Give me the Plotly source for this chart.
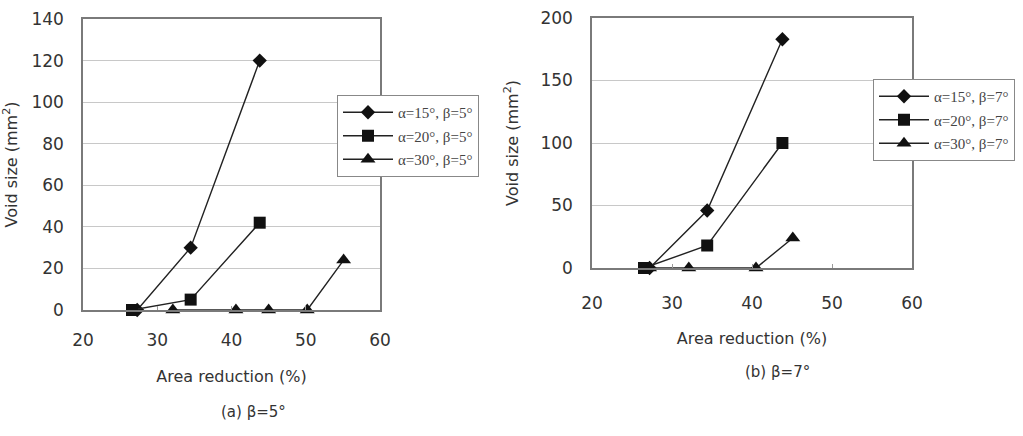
import plotly.graph_objects as go

# ---- data (a) beta=5 ----
a_x15 = [27.3, 34.5, 43.8]
a_y15 = [0, 30, 120]
a_x20 = [26.6, 34.5, 43.8]
a_y20 = [0, 5, 42]
a_x30 = [32.1, 40.6, 45.0, 50.2, 55.1]
a_y30 = [0, 0, 0, 0, 24]

# ---- data (b) beta=7 ----
b_x15 = [27.2, 34.4, 43.8]
b_y15 = [0, 46, 183]
b_x20 = [26.5, 34.4, 43.8]
b_y20 = [0, 18, 100]
b_x30 = [27.2, 32.1, 40.5, 45.1]
b_y30 = [0, 0, 0, 24]

names_a = ["α=15°, β=5°", "α=20°, β=5°", "α=30°, β=5°"]
names_b = ["α=15°, β=7°", "α=20°, β=7°", "α=30°, β=7°"]
symbols = ["diamond", "square", "triangle-up"]
msizes = [11, 12, 13]

x_ticks = [20, 30, 40, 50, 60]
a_y_ticks = [0, 20, 40, 60, 80, 100, 120, 140]
b_y_ticks = [0, 50, 100, 150, 200]

W, H = 1023, 436
TXT = "#333333"
FONT = "DejaVu Sans"

fig = go.Figure()

def add_series(xs, ys, name, sym, ms, xa, ya, legend, grp):
    fig.add_trace(go.Scatter(
        x=xs, y=ys, name=name, mode="lines+markers",
        line=dict(color="#222222", width=1.4),
        marker=dict(symbol=sym, size=ms, color="#111111"),
        xaxis=xa, yaxis=ya, legend=legend, legendgroup=grp,
        cliponaxis=False,
    ))

A = [(a_x15, a_y15), (a_x20, a_y20), (a_x30, a_y30)]
B = [(b_x15, b_y15), (b_x20, b_y20), (b_x30, b_y30)]
for i, (xs, ys) in enumerate(A):
    add_series(xs, ys, names_a[i], symbols[i], msizes[i], "x", "y", "legend", f"a{i}")
for i, (xs, ys) in enumerate(B):
    add_series(xs, ys, names_b[i], symbols[i], msizes[i], "x2", "y2", "legend2", f"b{i}")

def px_x(p):
    return p / W

def px_y(p):
    return 1 - p / H

axis_common = dict(
    showline=True, linecolor="#7a7a7a", linewidth=1.5, mirror=True,
    tickfont=dict(family=FONT, size=17, color=TXT),
    zeroline=False, automargin=False,
)

fig.update_layout(
    width=W, height=H,
    margin=dict(l=0, r=0, t=0, b=0, autoexpand=False),
    paper_bgcolor="white", plot_bgcolor="white",
    showlegend=True,
    xaxis=dict(domain=[px_x(83), px_x(380)], range=[20, 60], tickvals=x_ticks,
               showgrid=False, ticks="inside", ticklen=4, tickcolor="#999",
               ticklabelstandoff=14, anchor="y",
               title=dict(text="Area reduction (%)", standoff=22,
                          font=dict(family=FONT, size=16, color=TXT)),
               **axis_common),
    yaxis=dict(domain=[px_y(310), px_y(19)], range=[0, 140], tickvals=a_y_ticks,
               showgrid=True, gridcolor="#c8c8c8", gridwidth=1.2, ticks="",
               ticklabelstandoff=14, anchor="x",
               title=dict(text="Void size (mm<sup>2</sup>)", standoff=17,
                          font=dict(family=FONT, size=16, color=TXT)),
               **axis_common),
    xaxis2=dict(domain=[px_x(592), px_x(912)], range=[20, 60], tickvals=x_ticks,
                showgrid=False, ticks="inside", ticklen=4, tickcolor="#999",
                ticklabelstandoff=19, anchor="y2",
                title=dict(text="Area reduction (%)", standoff=21,
                           font=dict(family=FONT, size=16, color=TXT)),
                **axis_common),
    yaxis2=dict(domain=[px_y(268), px_y(18)], range=[0, 200], tickvals=b_y_ticks,
                showgrid=True, gridcolor="#c8c8c8", gridwidth=1.2, ticks="",
                ticklabelstandoff=14, anchor="x2",
                title=dict(text="Void size (mm<sup>2</sup>)", standoff=18,
                           font=dict(family=FONT, size=16, color=TXT)),
                **axis_common),
    legend=dict(x=px_x(337), y=px_y(95), xanchor="left", yanchor="top",
                bgcolor="white", bordercolor="#888", borderwidth=1,
                font=dict(family="Liberation Serif", size=15, color="#444"),
                itemwidth=50, tracegroupgap=1, traceorder="grouped"),
    legend2=dict(x=px_x(873), y=px_y(79), xanchor="left", yanchor="top",
                 bgcolor="white", bordercolor="#888", borderwidth=1,
                 font=dict(family="Liberation Serif", size=15, color="#444"),
                 itemwidth=50, tracegroupgap=1, traceorder="grouped"),
    annotations=[
        dict(text="(a) β=5°", x=px_x(253), y=px_y(412), xref="paper", yref="paper",
             xanchor="center", yanchor="middle",
             showarrow=False, font=dict(family=FONT, size=15, color=TXT)),
        dict(text="(b) β=7°", x=px_x(777), y=px_y(372), xref="paper", yref="paper",
             xanchor="center", yanchor="middle",
             showarrow=False, font=dict(family=FONT, size=15, color=TXT)),
    ],
)

fig.write_html("out.html")
